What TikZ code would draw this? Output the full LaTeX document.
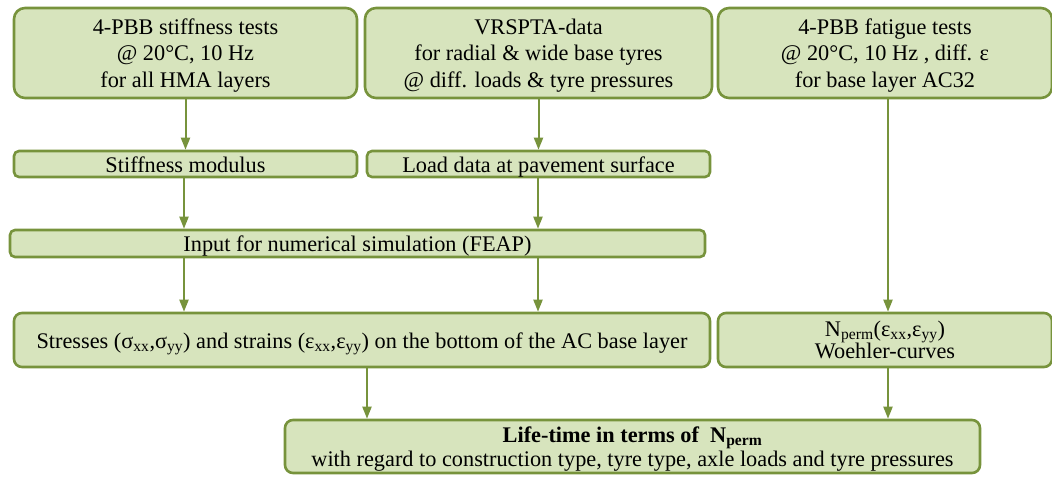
\documentclass[tikz,border=0pt]{standalone}
\usepackage{fontspec}
\setmainfont{Liberation Serif}
\newfontfamily\tnr{Liberation Serif}
\usetikzlibrary{arrows.meta}
\definecolor{boxfill}{HTML}{D7E4BD}
\definecolor{boxline}{HTML}{77933C}
\tikzset{
  bigbox/.style={draw=boxline, fill=boxfill, line width=2.6pt, rounded corners=11pt, align=center, inner sep=0pt, font=\tnr\fontsize{22.3}{26.5}\selectfont},
  smallbox/.style={draw=boxline, fill=boxfill, line width=2.6pt, rounded corners=5pt, align=center, inner sep=0pt, font=\tnr\fontsize{22.3}{26}\selectfont, text height=20pt, text depth=4pt},
  flow/.style={draw=boxline, line width=2pt, -{Triangle[length=12pt,width=9pt]}}
}
\begin{document}
\begin{tikzpicture}[x=1pt,y=-1pt]
\useasboundingbox (0,0) rectangle (1052,477);
\node[bigbox, minimum width=343pt, minimum height=90pt, text depth=0pt] (A) at (185.5,53) {4-PBB stiffness tests\\@ 20°C, 10 Hz\\for all HMA layers};
\node[bigbox, minimum width=347pt, minimum height=90pt, text depth=0pt] (B) at (538.5,53) {VRSPTA-data\\for radial \& wide base tyres\\@ diff. loads \& tyre pressures};
\node[bigbox, minimum width=334pt, minimum height=90pt, text depth=0pt] (C) at (885,53) {4-PBB fatigue tests\\@ 20°C, 10 Hz , diff. ε\\for base layer AC32};
\node[smallbox, minimum width=343pt, minimum height=26pt] (S) at (185.5,164) {Stiffness modulus};
\node[smallbox, minimum width=343pt, minimum height=26pt] (L) at (538.5,164) {Load data at pavement surface};
\node[smallbox, minimum width=695pt, minimum height=27pt] (I) at (357.5,243.5) {Input for numerical simulation (FEAP)};
\node[bigbox, rounded corners=8pt, minimum width=696pt, minimum height=54pt, text height=20pt, text depth=3pt] (St) at (362,340) {Stresses (σ\textsubscript{xx},σ\textsubscript{yy}) and strains (ε\textsubscript{xx},ε\textsubscript{yy}) on the bottom of the AC base layer};
\node[bigbox, rounded corners=8pt, minimum width=334pt, minimum height=54pt, font=\tnr\fontsize{22.3}{22}\selectfont] (N) at (885,340) {N\textsubscript{perm}(ε\textsubscript{xx},ε\textsubscript{yy})\\Woehler-curves};
\node[bigbox, rounded corners=8pt, minimum width=695pt, minimum height=53pt, font=\tnr\fontsize{22.3}{24}\selectfont, text depth=0pt] (Lt) at (632.5,446.5) {\textbf{Life-time in terms of\ \ N\textsubscript{perm}}\\with regard to construction type, tyre type, axle loads and tyre pressures};
\draw[flow] (A.south -| S) -- (S);
\draw[flow] (B.south -| L) -- (L);
\coordinate (x1) at (184,0);
\coordinate (x2) at (538,0);
\coordinate (x3) at (888,0);
\coordinate (x4) at (367,0);
\draw[flow] (S.south -| x1) -- (I.north -| x1);
\draw[flow] (L.south -| x2) -- (I.north -| x2);
\draw[flow] (I.south -| x1) -- (St.north -| x1);
\draw[flow] (I.south -| x2) -- (St.north -| x2);
\draw[flow] (C.south -| x3) -- (N.north -| x3);
\draw[flow] (St.south -| x4) -- (Lt.north -| x4);
\draw[flow] (N.south -| x3) -- (Lt.north -| x3);
\end{tikzpicture}
\end{document}
